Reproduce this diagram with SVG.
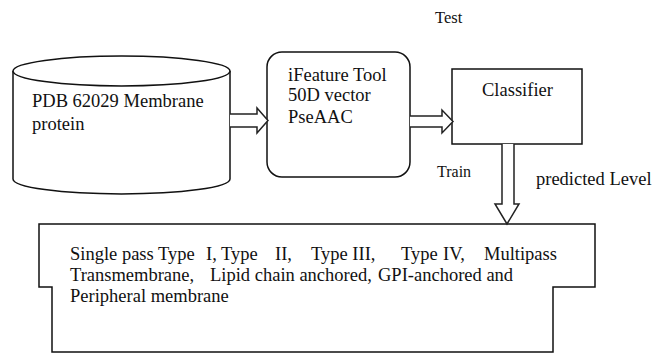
<svg xmlns="http://www.w3.org/2000/svg" width="665" height="354" viewBox="0 0 665 354">
<style>
.s{fill:#fff;stroke:#111;stroke-width:1.5}
.t{font-family:"Liberation Serif","Times New Roman",serif;font-size:18.5px;fill:#111}
.a{fill:#fff;stroke:#222;stroke-width:1.5;stroke-linejoin:miter}
</style>
<rect width="665" height="354" fill="#fff"/>
<g id="database">
<path class="s" d="M13,71 L13,179 A108.5,15 0 0 0 230,179 L230,71"/>
<ellipse class="s" cx="121.5" cy="71" rx="108.5" ry="15"/>
<text class="t" x="32" y="107">PDB 62029 Membrane</text>
<text class="t" x="32" y="130">protein</text>
</g>
<g id="ifeature">
<rect class="s" x="267" y="52" width="143" height="125" rx="15" ry="15"/>
<text class="t" x="288" y="81">iFeature Tool</text>
<text class="t" x="288" y="101">50D vector</text>
<text class="t" x="288" y="123">PseAAC</text>
</g>
<g id="classifier">
<rect class="s" x="452" y="69" width="130" height="75"/>
<text class="t" x="482" y="96">Classifier</text>
</g>
<g id="output">
<path class="s" d="M39,224 H595 V287 H553 V352 H52 V287 H39 Z"/>
<text class="t" y="260"><tspan x="70">Single pass Type</tspan><tspan x="206">I, Type</tspan><tspan x="275">II,</tspan><tspan x="311">Type III,</tspan><tspan x="401">Type</tspan><tspan x="443">IV,</tspan><tspan x="484">Multipass</tspan></text>
<text class="t" y="281"><tspan x="70">Transmembrane,</tspan><tspan x="210">Lipid chain anchored,</tspan><tspan x="378">GPI-anchored and</tspan></text>
<text class="t" x="70" y="302">Peripheral membrane</text>
</g>
<g id="connectors">
<path class="a" d="M230,114 H257 V108 L268,120.5 L257,133 V127 H230"/>
<path class="a" d="M410,116 H442 V110 L453,121.5 L442,133 V127 H410"/>
<path class="a" d="M502,144 V204 H495 L507,224 L519,204 H514 V144"/>
</g>
<g id="labels">
<text class="t" x="435" y="23" style="font-size:16.5px">Test</text>
<text class="t" x="437" y="177" style="font-size:16px">Train</text>
<text class="t" x="536" y="185">predicted Level</text>
</g>
</svg>
